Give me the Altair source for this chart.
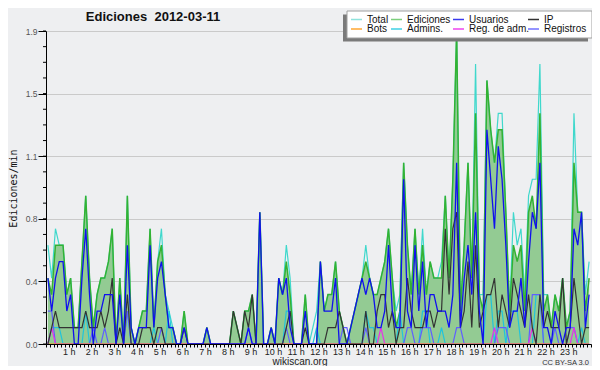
import altair as alt
import pandas as pd

SERIES = ["Total", "Ediciones", "Usuarios", "IP", "Bots", "Admins.", "Reg. de adm.", "Registros"]
COLORS = ["#3fd8cc", "#33b233", "#1010ee", "#333333", "#ff9a1a", "#20c4dc", "#e832e8", "#5f5fff"]
LEGEND_COLORS = ["#8fe3dc", "#7ccf7c", "#3a3aee", "#333333", "#ffa733", "#3fd0e4", "#ee44ee", "#7070ff"]

# values per 10-minute slot (edits per minute), 6 slots per hour
total = [
    0.6, 0.4, 0.7, 0.6, 0.6, 0.3,
    0.4, 0.1, 0.1, 0.5, 0.9, 0.4,
    0.1, 0.3, 0.4, 0.4, 0.5, 0.7,
    0.0, 0.4, 0.0, 0.9, 0.1, 0.0,
    0.1, 0.2, 0.2, 0.7, 0.1, 0.5,
    0.7, 0.3, 0.2, 0.1, 0.0, 0.0,
    0.2, 0.0, 0.0, 0.0, 0.0, 0.0,
    0.1, 0.0, 0.0, 0.0, 0.0, 0.0,
    0.0, 0.2, 0.1, 0.0, 0.2, 0.2,
    0.3, 0.0, 0.8, 0.0, 0.0, 0.1,
    0.0, 0.4, 0.3, 0.6, 0.4, 0.0,
    0.0, 0.0, 0.3, 0.0, 0.1, 0.2,
    0.5, 0.2, 0.3, 0.3, 0.5, 0.2,
    0.1, 0.0, 0.1, 0.2, 0.3, 0.4,
    0.6, 0.4, 0.3, 0.3, 0.4, 0.5,
    0.7, 0.4, 0.2, 0.3, 1.1, 0.6,
    0.3, 0.7, 0.3, 0.7, 0.3, 0.5,
    0.4, 0.4, 0.5, 0.9, 0.4, 1.0,
    1.9, 0.2, 0.6, 1.1, 0.4, 1.7,
    0.3, 0.3, 1.6, 1.3, 1.1, 1.4,
    1.4, 0.8, 0.2, 0.8, 0.6, 0.7,
    0.3, 0.9, 1.0, 1.0, 1.7, 0.3,
    0.3, 0.1, 0.3, 0.2, 0.4, 0.1,
    0.2, 1.4, 0.8, 0.8, 0.3, 0.5,
]
ediciones = [
    0.4, 0.3, 0.6, 0.6, 0.6, 0.3,
    0.4, 0.1, 0.1, 0.5, 0.9, 0.4,
    0.1, 0.3, 0.4, 0.4, 0.5, 0.7,
    0.0, 0.4, 0.0, 0.9, 0.1, 0.0,
    0.1, 0.2, 0.2, 0.7, 0.1, 0.5,
    0.6, 0.3, 0.1, 0.1, 0.0, 0.0,
    0.2, 0.0, 0.0, 0.0, 0.0, 0.0,
    0.1, 0.0, 0.0, 0.0, 0.0, 0.0,
    0.0, 0.2, 0.1, 0.0, 0.2, 0.2,
    0.3, 0.0, 0.8, 0.0, 0.0, 0.1,
    0.0, 0.4, 0.3, 0.5, 0.3, 0.0,
    0.0, 0.0, 0.3, 0.0, 0.0, 0.0,
    0.5, 0.2, 0.3, 0.3, 0.5, 0.2,
    0.1, 0.0, 0.1, 0.2, 0.3, 0.4,
    0.5, 0.4, 0.3, 0.3, 0.4, 0.5,
    0.7, 0.4, 0.1, 0.2, 1.1, 0.6,
    0.3, 0.7, 0.3, 0.6, 0.3, 0.5,
    0.4, 0.4, 0.4, 0.9, 0.4, 1.0,
    1.9, 0.2, 0.6, 1.1, 0.4, 1.4,
    0.3, 0.2, 1.6, 1.3, 1.1, 1.3,
    1.3, 0.8, 0.2, 0.6, 0.5, 0.6,
    0.2, 0.8, 0.9, 0.7, 1.4, 0.2,
    0.3, 0.1, 0.3, 0.2, 0.4, 0.1,
    0.2, 1.1, 0.8, 0.8, 0.2, 0.4,
]
usuarios = [
    0.4, 0.2, 0.4, 0.5, 0.5, 0.2,
    0.3, 0.0, 0.0, 0.4, 0.7, 0.3,
    0.0, 0.2, 0.2, 0.3, 0.3, 0.3,
    0.0, 0.3, 0.0, 0.6, 0.1, 0.0,
    0.1, 0.1, 0.1, 0.6, 0.1, 0.4,
    0.5, 0.3, 0.1, 0.1, 0.0, 0.0,
    0.1, 0.0, 0.0, 0.0, 0.0, 0.0,
    0.1, 0.0, 0.0, 0.0, 0.0, 0.0,
    0.0, 0.0, 0.0, 0.0, 0.0, 0.1,
    0.0, 0.0, 0.8, 0.0, 0.0, 0.1,
    0.0, 0.4, 0.3, 0.4, 0.1, 0.0,
    0.0, 0.0, 0.2, 0.0, 0.0, 0.0,
    0.5, 0.2, 0.2, 0.2, 0.4, 0.0,
    0.0, 0.0, 0.1, 0.2, 0.3, 0.4,
    0.3, 0.4, 0.3, 0.1, 0.1, 0.2,
    0.6, 0.2, 0.1, 0.1, 1.0, 0.2,
    0.1, 0.6, 0.2, 0.5, 0.1, 0.3,
    0.3, 0.2, 0.2, 0.2, 0.1, 0.3,
    1.1, 0.1, 0.4, 0.6, 0.3, 0.8,
    0.2, 0.0, 1.3, 1.0, 0.7, 1.2,
    1.0, 0.6, 0.1, 0.2, 0.2, 0.4,
    0.1, 0.5, 0.8, 0.7, 1.1, 0.1,
    0.1, 0.0, 0.2, 0.1, 0.0, 0.1,
    0.1, 0.7, 0.6, 0.8, 0.1, 0.3,
]
ip = [
    0.0, 0.1, 0.2, 0.1, 0.1, 0.1,
    0.1, 0.1, 0.1, 0.1, 0.2, 0.1,
    0.1, 0.1, 0.2, 0.1, 0.2, 0.4,
    0.0, 0.1, 0.0, 0.3, 0.0, 0.0,
    0.0, 0.1, 0.1, 0.1, 0.0, 0.1,
    0.1, 0.0, 0.0, 0.0, 0.0, 0.0,
    0.1, 0.0, 0.0, 0.0, 0.0, 0.0,
    0.0, 0.0, 0.0, 0.0, 0.0, 0.0,
    0.0, 0.2, 0.1, 0.0, 0.2, 0.1,
    0.3, 0.0, 0.0, 0.0, 0.0, 0.0,
    0.0, 0.0, 0.0, 0.1, 0.2, 0.0,
    0.0, 0.0, 0.1, 0.0, 0.0, 0.0,
    0.0, 0.0, 0.1, 0.1, 0.1, 0.2,
    0.1, 0.0, 0.0, 0.0, 0.0, 0.0,
    0.2, 0.0, 0.0, 0.2, 0.3, 0.3,
    0.1, 0.2, 0.0, 0.1, 0.1, 0.4,
    0.2, 0.1, 0.1, 0.1, 0.2, 0.2,
    0.1, 0.2, 0.2, 0.7, 0.3, 0.7,
    0.8, 0.1, 0.2, 0.5, 0.1, 0.6,
    0.1, 0.2, 0.3, 0.3, 0.4, 0.1,
    0.3, 0.2, 0.1, 0.4, 0.3, 0.2,
    0.1, 0.3, 0.1, 0.0, 0.3, 0.1,
    0.2, 0.1, 0.1, 0.1, 0.4, 0.0,
    0.1, 0.4, 0.2, 0.0, 0.1, 0.1,
]
bots = [
    0, 0, 0, 0, 0, 0,  0, 0, 0, 0, 0, 0,  0, 0, 0, 0, 0, 0,  0, 0, 0, 0, 0, 0,
    0, 0, 0, 0, 0, 0,  0, 0, 0, 0, 0, 0,  0, 0, 0, 0, 0, 0,  0, 0, 0, 0, 0, 0,
    0, 0, 0, 0, 0, 0,  0, 0, 0, 0, 0, 0,  0, 0, 0, 0, 0, 0,  0, 0, 0, 0, 0, 0,
    0, 0, 0, 0, 0, 0,  0, 0, 0, 0, 0, 0,  0, 0, 0, 0, 0, 0,  0, 0, 0, 0, 0, 0,
    0, 0, 0, 0, 0, 0,  0, 0, 0, 0, 0, 0,  0, 0, 0, 0, 0, 0,  0, 0, 0, 0, 0, 0,
    0, 0, 0, 0, 0, 0,  0, 0, 0, 0, 0, 0,  0, 0, 0, 0, 0, 0,  0, 0, 0, 0, 0, 0,
]
admins = [
    0.0, 0.1, 0.1, 0.1, 0.0, 0.0,
    0.0, 0.0, 0.0, 0.0, 0.2, 0.0,
    0.0, 0.0, 0.0, 0.0, 0.0, 0.0,
    0.0, 0.0, 0.0, 0.2, 0.0, 0.0,
    0.0, 0.0, 0.0, 0.0, 0.1, 0.0,
    0.0, 0.0, 0.2, 0.0, 0.0, 0.0,
    0.0, 0.0, 0.0, 0.0, 0.0, 0.0,
    0.0, 0.0, 0.0, 0.0, 0.0, 0.0,
    0.0, 0.0, 0.0, 0.0, 0.0, 0.0,
    0.0, 0.0, 0.0, 0.0, 0.0, 0.0,
    0.0, 0.0, 0.0, 0.2, 0.2, 0.0,
    0.0, 0.0, 0.0, 0.0, 0.0, 0.1,
    0.0, 0.0, 0.0, 0.0, 0.0, 0.0,
    0.0, 0.0, 0.0, 0.0, 0.0, 0.0,
    0.2, 0.1, 0.1, 0.0, 0.0, 0.0,
    0.0, 0.0, 0.0, 0.2, 0.0, 0.0,
    0.0, 0.0, 0.0, 0.2, 0.2, 0.0,
    0.0, 0.0, 0.1, 0.0, 0.0, 0.0,
    0.0, 0.0, 0.0, 0.0, 0.0, 0.0,
    0.0, 0.0, 0.3, 0.3, 0.0, 0.2,
    0.2, 0.0, 0.2, 0.2, 0.2, 0.0,
    0.0, 0.0, 0.0, 0.3, 0.3, 0.0,
    0.0, 0.0, 0.0, 0.0, 0.0, 0.0,
    0.0, 0.0, 0.0, 0.1, 0.0, 0.0,
]
reg_adm = [
    0.0, 0.1, 0.0, 0.0, 0.0, 0.0,
    0.0, 0.0, 0.0, 0.0, 0.0, 0.0,
    0.0, 0.0, 0.0, 0.0, 0.0, 0.0,
    0.0, 0.0, 0.0, 0.0, 0.0, 0.0,
    0.0, 0.0, 0.0, 0.0, 0.0, 0.0,
    0.0, 0.0, 0.0, 0.0, 0.0, 0.0,
    0.0, 0.0, 0.0, 0.0, 0.0, 0.0,
    0.0, 0.0, 0.0, 0.0, 0.0, 0.0,
    0.0, 0.0, 0.0, 0.0, 0.0, 0.0,
    0.0, 0.0, 0.0, 0.0, 0.0, 0.0,
    0.0, 0.0, 0.0, 0.0, 0.0, 0.0,
    0.0, 0.0, 0.0, 0.0, 0.0, 0.0,
    0.0, 0.0, 0.0, 0.0, 0.0, 0.0,
    0.0, 0.0, 0.0, 0.0, 0.0, 0.0,
    0.0, 0.0, 0.0, 0.0, 0.1, 0.0,
    0.0, 0.0, 0.0, 0.0, 0.0, 0.0,
    0.0, 0.0, 0.0, 0.0, 0.0, 0.0,
    0.0, 0.0, 0.0, 0.0, 0.0, 0.0,
    0.0, 0.0, 0.0, 0.0, 0.0, 0.0,
    0.0, 0.0, 0.0, 0.0, 0.1, 0.0,
    0.0, 0.0, 0.0, 0.0, 0.0, 0.0,
    0.0, 0.0, 0.1, 0.0, 0.0, 0.0,
    0.0, 0.0, 0.0, 0.0, 0.0, 0.0,
    0.0, 0.1, 0.0, 0.0, 0.0, 0.0,
]
registros = [
    0.2, 0.2, 0.0, 0.0, 0.0, 0.0,
    0.0, 0.0, 0.0, 0.0, 0.0, 0.0,
    0.1, 0.0, 0.0, 0.1, 0.0, 0.0,
    0.0, 0.0, 0.0, 0.2, 0.0, 0.0,
    0.0, 0.0, 0.0, 0.0, 0.0, 0.0,
    0.1, 0.0, 0.0, 0.0, 0.0, 0.0,
    0.0, 0.0, 0.0, 0.0, 0.0, 0.0,
    0.0, 0.0, 0.0, 0.0, 0.0, 0.0,
    0.0, 0.0, 0.0, 0.0, 0.0, 0.1,
    0.0, 0.0, 0.0, 0.0, 0.0, 0.0,
    0.0, 0.0, 0.0, 0.1, 0.0, 0.0,
    0.0, 0.0, 0.0, 0.0, 0.0, 0.0,
    0.0, 0.0, 0.0, 0.0, 0.0, 0.0,
    0.1, 0.1, 0.0, 0.0, 0.0, 0.0,
    0.1, 0.0, 0.0, 0.0, 0.0, 0.0,
    0.0, 0.0, 0.0, 0.0, 0.0, 0.1,
    0.1, 0.0, 0.0, 0.1, 0.1, 0.1,
    0.0, 0.0, 0.0, 0.0, 0.0, 0.0,
    0.1, 0.1, 0.0, 0.0, 0.0, 0.0,
    0.0, 0.0, 0.0, 0.0, 0.0, 0.1,
    0.1, 0.1, 0.0, 0.0, 0.0, 0.0,
    0.0, 0.0, 0.3, 0.3, 0.3, 0.0,
    0.0, 0.0, 0.1, 0.0, 0.0, 0.0,
    0.1, 0.1, 0.0, 0.0, 0.0, 0.0,
]

values = {
    "Total": total, "Ediciones": ediciones, "Usuarios": usuarios, "IP": ip,
    "Bots": bots, "Admins.": admins, "Reg. de adm.": reg_adm, "Registros": registros,
}
rows = []
for name, vals in values.items():
    assert len(vals) == 144, name
    for i, v in enumerate(vals):
        rows.append({"t": (i + 0.5) / 6.0, "serie": name, "v": v})
df = pd.DataFrame(rows)

Y_MAJOR = [0.0, 0.38, 0.76, 1.14, 1.52, 1.9]
Y_MINOR = [round(k * 0.095, 4) for k in range(21)]
X_TICKS = [k / 6.0 for k in range(145)]

x_enc = alt.X(
    "t:Q",
    scale=alt.Scale(domain=[0, 24], nice=False, zero=False),
    axis=alt.Axis(
        values=X_TICKS,
        labelExpr="(abs(datum.value - round(datum.value)) < 0.01 && datum.value > 0.5 && datum.value < 23.5) ? (round(datum.value) + ' h') : ''",
        tickSize=3, tickColor="black", domainColor="black", domainWidth=1,
        labelFont="Liberation Sans", labelFontSize=9, labelColor="#222",
        labelPadding=0, labelOverlap=False, labelFlush=False, labelBound=False,
        grid=False, title=None, zindex=1,
    ),
)
y_enc = alt.Y(
    "v:Q",
    scale=alt.Scale(domain=[0, 1.9], nice=False),
    axis=alt.Axis(
        values=Y_MAJOR, format=".1f",
        tickSize=8, tickColor="black", domainColor="black",
        labelFont="Liberation Sans", labelFontSize=8.5, labelColor="#555", labelPadding=1,
        grid=True, gridColor="#cacaca", gridWidth=1,
        title="Ediciones/min", titleFont="DejaVu Sans Mono", titleFontSize=10,
        titleFontWeight="normal", titleColor="#111",
        titleX=-32.5, titleY=157, titleAngle=270, titleAlign="center", titleBaseline="middle",
    ),
)
color_enc = alt.Color("serie:N", scale=alt.Scale(domain=SERIES, range=COLORS), legend=None)

base = alt.Chart(df)

area = base.transform_filter("datum.serie == 'Ediciones'").mark_area(
    color="#93cb93", opacity=1, interpolate="linear"
).encode(x=x_enc, y=y_enc)

widths = {"Total": 1.2, "Ediciones": 1.5, "Admins.": 1.2, "Registros": 1.2,
          "Reg. de adm.": 1.2, "Bots": 1.2, "IP": 1.2, "Usuarios": 1.3}
draw_order = ["Total", "Ediciones", "Admins.", "Registros", "Reg. de adm.", "Bots", "IP", "Usuarios"]
lines = []
for name in draw_order:
    lines.append(
        base.transform_filter(alt.datum.serie == name)
        .mark_line(strokeWidth=widths[name], interpolate="linear")
        .encode(x=x_enc, y=y_enc, color=color_enc)
    )

minor = alt.Chart(pd.DataFrame({"v": Y_MINOR})).mark_rule(color="black", strokeWidth=1).encode(
    y=y_enc, x=alt.value(-3), x2=alt.value(0)
)

one = pd.DataFrame({"a": [0]})

# legend box with its shadow (drawn manually, 4 columns x 2 rows)
shadow = alt.Chart(one).mark_rect(color="#7a7a7a").encode(
    x=alt.value(297), x2=alt.value(542), y=alt.value(-16.5), y2=alt.value(10.5)
)
box = alt.Chart(one).mark_rect(color="white", stroke="#a0a0a0", strokeWidth=1).encode(
    x=alt.value(301), x2=alt.value(546), y=alt.value(-20), y2=alt.value(7)
)
LEG_COL_X = [305, 345, 407, 482]
LEG_ROW_Y = [-11.5, -2]
legend_layers = []
for idx, name in enumerate(SERIES):
    lx = LEG_COL_X[idx % 4]
    ly = LEG_ROW_Y[idx // 4]
    legend_layers.append(
        alt.Chart(one).mark_rule(color=LEGEND_COLORS[idx], strokeWidth=1.5).encode(
            x=alt.value(lx), x2=alt.value(lx + 11), y=alt.value(ly)
        )
    )
    legend_layers.append(
        alt.Chart(one).mark_text(
            text=name, font="Liberation Sans", fontSize=10, align="left",
            baseline="middle", color="#111"
        ).encode(x=alt.value(lx + 16), y=alt.value(ly))
    )

title = alt.Chart(pd.DataFrame({"s": ["Ediciones\u00a0 2012-03-11"]})).mark_text(
    font="Liberation Sans", fontSize=13, fontWeight="bold", align="center",
    baseline="middle", color="#111"
).encode(text="s:N", x=alt.value(107), y=alt.value(-14))

foot1 = alt.Chart(pd.DataFrame({"s": ["wikiscan.org"]})).mark_text(
    font="Liberation Sans", fontSize=10, align="center", baseline="middle", color="#222"
).encode(text="s:N", x=alt.value(254), y=alt.value(331))

foot2 = alt.Chart(pd.DataFrame({"s": ["CC BY-SA 3.0"]})).mark_text(
    font="Liberation Sans", fontSize=7.5, align="right", baseline="middle", color="#333"
).encode(text="s:N", x=alt.value(543), y=alt.value(332))

chart = alt.layer(area, *lines, minor, shadow, box, *legend_layers, title, foot1, foot2).properties(
    width=545, height=313,
    padding={"left": 38, "top": 23, "right": 1, "bottom": 22},
    autosize=alt.AutoSizeParams(type="none"),
    background="#eeeff1",
).configure_view(stroke=None)

chart.save("out.html", embed_options={"renderer": "svg", "actions": False})
